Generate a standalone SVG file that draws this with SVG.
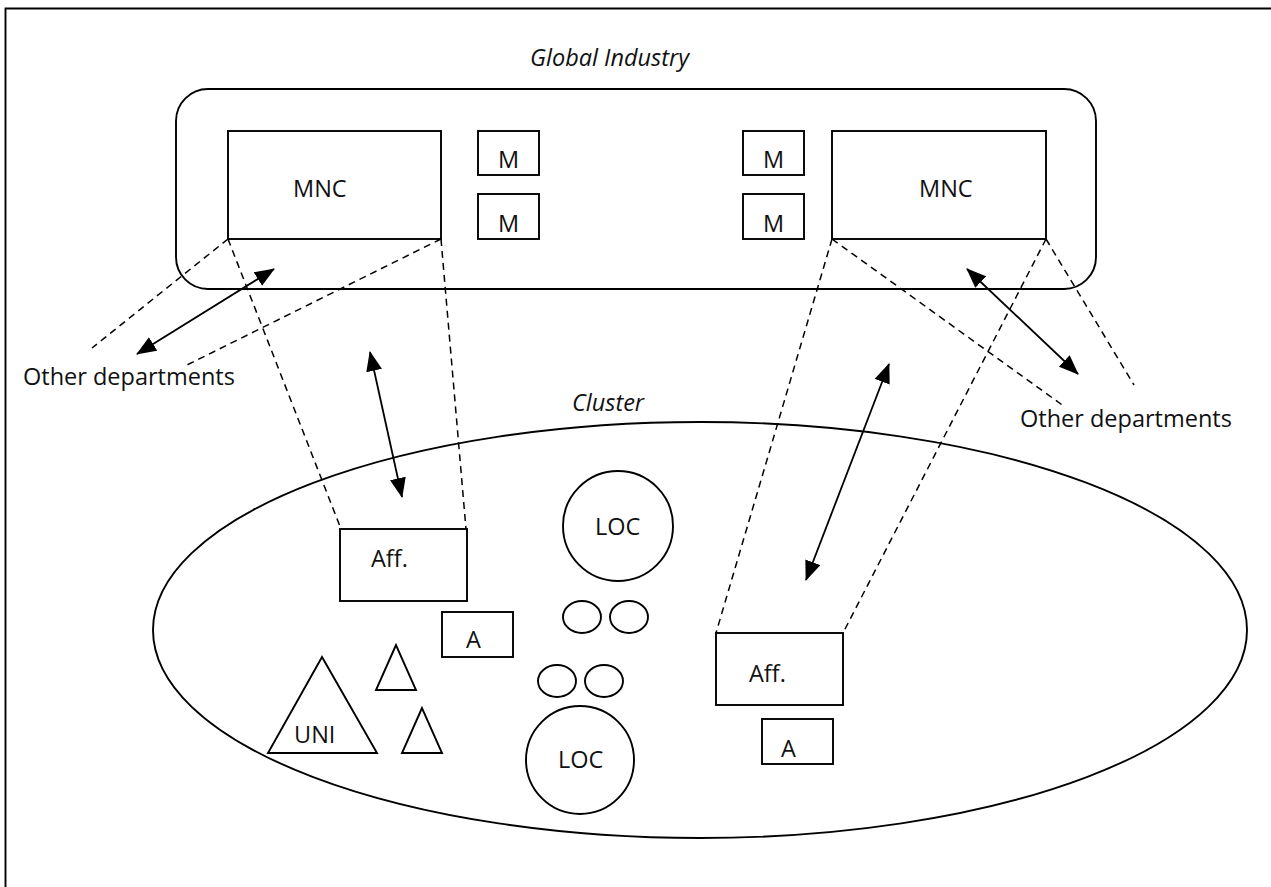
<svg xmlns="http://www.w3.org/2000/svg" width="1271" height="887" viewBox="0 0 1271 887">
<defs>
<style>
.s{fill:none;stroke:#000;stroke-width:1.9}
.d{fill:none;stroke:#000;stroke-width:1.5;stroke-dasharray:7 5}
.a{fill:none;stroke:#000;stroke-width:1.8;marker-start:url(#ah);marker-end:url(#ah)}
.t{font-family:"Open Sans","Noto Sans",sans-serif;font-size:23.5px;fill:#111}
.i{font-style:italic}
</style>
<marker id="ah" markerUnits="userSpaceOnUse" markerWidth="20" markerHeight="16" viewBox="0 0 20 16" refX="19" refY="8" orient="auto-start-reverse">
<path d="M0,0 L20,8 L0,16 z" fill="#000"/>
</marker>
</defs>
<rect width="1271" height="887" fill="#fff"/>
<g id="frame">
<path class="s" d="M5.5,887 L5.5,8.5 L1271,8.5" stroke-width="2.2"/>
</g>
<g id="global-industry">
<rect class="s" x="176" y="89" width="920" height="200" rx="32" ry="32"/>
<text class="t i" x="530" y="66">Global Industry</text>
</g>
<g id="cluster">
<ellipse class="s" cx="700" cy="630" rx="547" ry="208"/>
<text class="t i" x="572" y="411">Cluster</text>
</g>
<g id="mnc-left">
<rect class="s" x="228" y="131" width="213" height="108"/>
<text class="t" x="293" y="197">MNC</text>
</g>
<g id="mnc-right">
<rect class="s" x="832" y="131" width="214" height="108"/>
<text class="t" x="919" y="197">MNC</text>
</g>
<g id="m1"><rect class="s" x="478" y="131" width="61" height="44"/><text class="t" x="498" y="168">M</text></g>
<g id="m2"><rect class="s" x="478" y="194" width="61" height="45"/><text class="t" x="498" y="232">M</text></g>
<g id="m3"><rect class="s" x="743" y="131" width="61" height="44"/><text class="t" x="763" y="168">M</text></g>
<g id="m4"><rect class="s" x="743" y="194" width="61" height="45"/><text class="t" x="763" y="232">M</text></g>
<g id="aff-left"><rect class="s" x="340" y="529" width="127" height="72"/><text class="t" x="371" y="567">Aff.</text></g>
<g id="a-left"><rect class="s" x="442" y="612" width="71" height="45"/><text class="t" x="466" y="648">A</text></g>
<g id="aff-right"><rect class="s" x="716" y="633" width="127" height="72"/><text class="t" x="749" y="682">Aff.</text></g>
<g id="a-right"><rect class="s" x="762" y="719" width="71" height="45"/><text class="t" x="781" y="757">A</text></g>
<g id="loc-top"><circle class="s" cx="618" cy="526" r="55"/><text class="t" x="595" y="535">LOC</text></g>
<g id="loc-bottom"><circle class="s" cx="580" cy="760" r="54"/><text class="t" x="558" y="768">LOC</text></g>
<g id="small-ovals">
<ellipse class="s" cx="582" cy="617" rx="19" ry="16"/>
<ellipse class="s" cx="629" cy="617" rx="19" ry="16"/>
<ellipse class="s" cx="557" cy="681" rx="19" ry="16"/>
<ellipse class="s" cx="604" cy="681" rx="19" ry="16"/>
</g>
<g id="uni"><polygon class="s" points="322,657 268,753 377,753"/><text class="t" x="294" y="743">UNI</text></g>
<g id="tri1"><polygon class="s" points="396,645 376,690 416,690"/></g>
<g id="tri2"><polygon class="s" points="422,708 402,753 442,753"/></g>
<g id="other-left"><text class="t" x="23" y="385">Other departments</text></g>
<g id="other-right"><text class="t" x="1020" y="427">Other departments</text></g>
<g id="connectors">
<line class="d" x1="228" y1="239" x2="92" y2="348"/>
<line class="d" x1="228" y1="239" x2="341" y2="529"/>
<line class="d" x1="441" y1="239" x2="183" y2="367"/>
<line class="d" x1="441" y1="239" x2="466" y2="529"/>
<line class="d" x1="832" y1="239" x2="716" y2="633"/>
<line class="d" x1="832" y1="239" x2="1065" y2="407"/>
<line class="d" x1="1046" y1="239" x2="1134" y2="385"/>
<line class="d" x1="1046" y1="239" x2="843" y2="633"/>
<line class="a" x1="274" y1="269" x2="137" y2="354"/>
<line class="a" x1="370" y1="352" x2="402" y2="497"/>
<line class="a" x1="967" y1="269" x2="1078" y2="374"/>
<line class="a" x1="889" y1="364" x2="806" y2="580"/>
</g>
</svg>
